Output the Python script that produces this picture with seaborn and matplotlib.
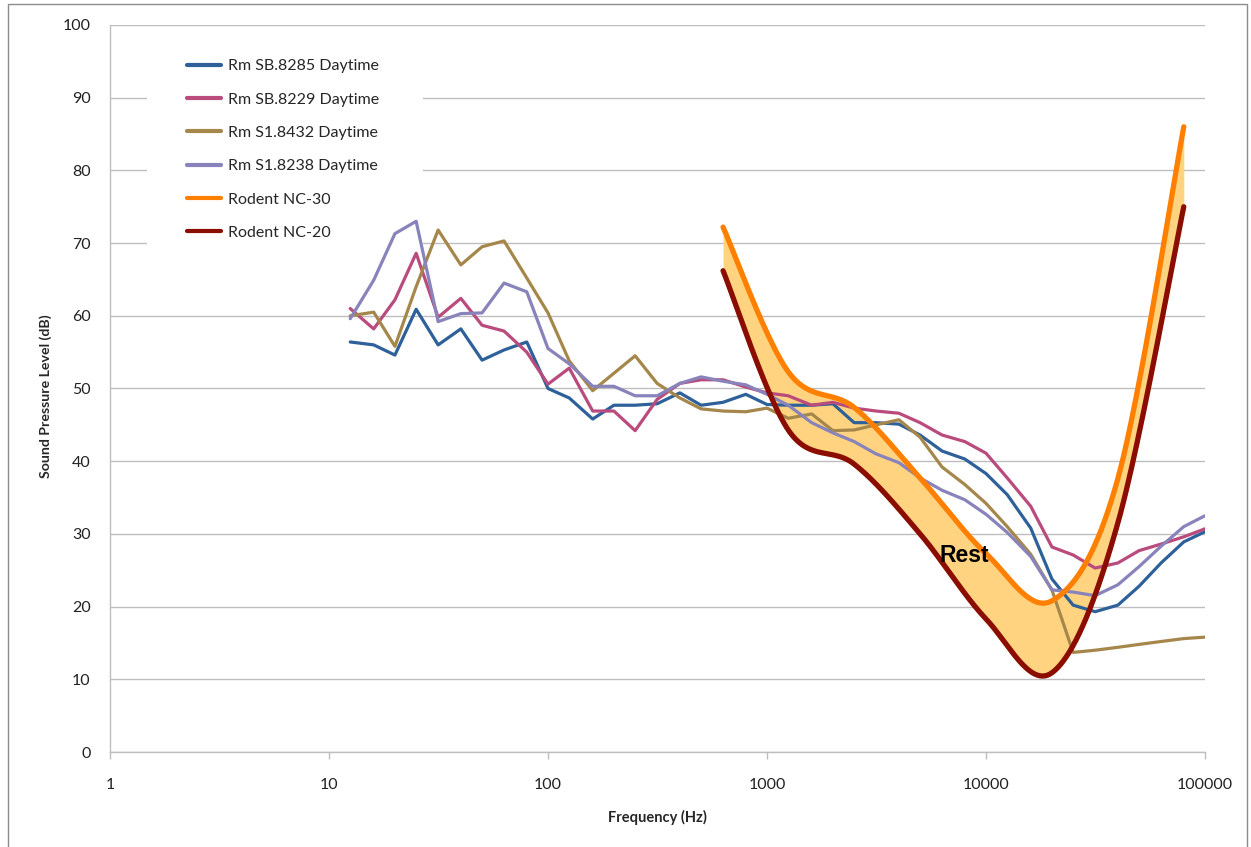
import numpy as np
import pandas as pd
import seaborn as sns
import matplotlib
matplotlib.use("Agg")
from matplotlib import pyplot as plt
from matplotlib.lines import Line2D
from matplotlib.patches import Rectangle
from matplotlib.ticker import FixedLocator, FixedFormatter, NullLocator

# 1/3 octave band centre frequencies (Hz)
freqs = [12.5, 16, 20, 25, 31.5, 40, 50, 63, 80,
         100, 125, 160, 200, 250, 315, 400, 500, 630, 800,
         1000,
         1250, 1600, 2000, 2500, 3150, 4000, 5000, 6300, 8000,
         10000,
         12500, 16000, 20000, 25000, 31500, 40000, 50000, 63000, 80000, 100000]

sb8285 = [56.4, 56.0, 54.6, 60.9, 56.0, 58.2, 53.9, 55.3, 56.4,
          50.0, 48.7, 45.8, 47.7, 47.7, 47.9, 49.4, 47.7, 48.1, 49.2,
          47.8,
          47.7, 47.7, 47.9, 45.3, 45.3, 45.1, 43.6, 41.4, 40.3,
          38.3,
          35.4, 30.8, 23.8, 20.2, 19.3, 20.2, 22.8, 26.0, 28.9, 30.3]

sb8229 = [61.0, 58.2, 62.2, 68.6, 59.8, 62.4, 58.7, 57.9, 55.0,
          50.6, 52.8, 46.9, 46.9, 44.2, 48.5, 50.7, 51.2, 51.2, 50.2,
          49.4,
          49.0, 47.7, 48.1, 47.3, 46.9, 46.6, 45.3, 43.6, 42.7,
          41.1,
          37.7, 33.8, 28.2, 27.1, 25.3, 26.0, 27.7, 28.6, 29.6, 30.7]

s18432 = [60.0, 60.5, 55.8, 64.0, 71.8, 67.0, 69.5, 70.3, 65.2,
          60.4, 53.8, 49.7, 52.1, 54.5, 50.7, 48.7, 47.2, 46.9, 46.8,
          47.3,
          45.9, 46.5, 44.2, 44.3, 45.0, 45.7, 43.3, 39.2, 36.8,
          34.2,
          31.0, 27.2, 22.3, 13.7, 14.0, 14.4, 14.8, 15.2, 15.6, 15.8]

s18238 = [59.6, 64.9, 71.3, 73.0, 59.2, 60.3, 60.4, 64.5, 63.3,
          55.5, 53.4, 50.3, 50.3, 49.0, 49.0, 50.7, 51.6, 51.0, 50.5,
          49.2,
          47.7, 45.3, 43.9, 42.7, 41.0, 39.8, 37.7, 36.0, 34.7,
          32.7,
          30.2, 26.9, 22.3, 22.0, 21.5, 23.0, 25.5, 28.3, 31.0, 32.5]

# rodent noise criteria curves (octave points, drawn as smoothed lines)
nc_freqs = [630, 1250, 2500, 5000, 10000, 20000, 40000, 80000]
nc30 = [72.2, 52.3, 47.4, 37.7, 27.3, 20.8, 37.6, 86.0]
nc20 = [66.2, 44.3, 39.6, 30.0, 18.3, 10.9, 31.5, 75.0]

series_names = ["Rm SB.8285 Daytime", "Rm SB.8229 Daytime",
                "Rm S1.8432 Daytime", "Rm S1.8238 Daytime"]
series_colors = ["#2E6099", "#B94B7D", "#A5874B", "#8883BA"]
nc_names = ["Rodent NC-30", "Rodent NC-20"]
nc_colors = ["#FF8000", "#8B0D00"]
fill_color = "#FFD37F"
grid_color = "#BEBEBE"


def smooth_curve(xs, ys, n=60):
    """Excel-style smoothed line: Catmull-Rom in log-frequency space,
    end points repeated so the end tangents are half the chord."""
    P = np.column_stack([np.log10(xs), np.asarray(ys, dtype=float)])
    pts = np.vstack([P[0], P, P[-1]])
    t = np.linspace(0, 1, n, endpoint=False)[:, None]
    segs = []
    for i in range(1, len(pts) - 2):
        p0, p1, p2, p3 = pts[i - 1], pts[i], pts[i + 1], pts[i + 2]
        segs.append(0.5 * (2 * p1 + (-p0 + p2) * t
                           + (2 * p0 - 5 * p1 + 4 * p2 - p3) * t ** 2
                           + (-p0 + 3 * p1 - 3 * p2 + p3) * t ** 3))
    segs.append(P[-1][None, :])
    out = np.vstack(segs)
    return 10 ** out[:, 0], out[:, 1]


# long dataframe for the measured rooms
df = pd.DataFrame({
    "freq": freqs * 4,
    "spl": sb8285 + sb8229 + s18432 + s18238,
    "series": sum([[name] * len(freqs) for name in series_names], []),
})

sns.set_theme(style="white")
plt.rcParams["font.family"] = ["Lato", "DejaVu Sans"]

fig = plt.figure(figsize=(12.51, 8.47), dpi=100)
ax = fig.add_axes([110 / 1251, 1 - 752 / 847, 1095 / 1251, 727 / 847])
ax.set_xscale("log")

# shaded "rest" band between the two criteria curves
x30, y30 = smooth_curve(nc_freqs, nc30)
x20, y20 = smooth_curve(nc_freqs, nc20)
ax.fill_between(x30, y20, y30, color=fill_color, lw=0, zorder=1)

sns.lineplot(data=df, x="freq", y="spl", hue="series", hue_order=series_names,
             palette=series_colors, linewidth=2.3, legend=False, sort=False,
             estimator=None, ax=ax, zorder=3)

for xs, ys, col in [(x30, y30, nc_colors[0]), (x20, y20, nc_colors[1])]:
    sns.lineplot(x=xs, y=ys, color=col, linewidth=3.8, sort=False,
                 estimator=None, ax=ax, zorder=4)

# white legend background sitting under the data lines
ax.add_patch(Rectangle((147 / 1251, 1 - 255 / 847), (423 - 147) / 1251, 215 / 847,
                       transform=fig.transFigure, facecolor="white",
                       edgecolor="none", zorder=2))

ax.text(8000, 27, "Rest", ha="center", va="center", fontsize=16.5,
        fontweight="bold", family="Liberation Sans", color="black", zorder=5)

# axes, ticks, grid
ax.set_xlim(1, 100000)
ax.set_ylim(0, 100)
decades = [1, 10, 100, 1000, 10000, 100000]
ax.xaxis.set_major_locator(FixedLocator(decades))
ax.xaxis.set_major_formatter(FixedFormatter([str(d) for d in decades]))
ax.xaxis.set_minor_locator(NullLocator())
ax.set_yticks(range(0, 101, 10))
ax.yaxis.grid(True, color=grid_color, linewidth=1.0, zorder=0)
ax.set_axisbelow(True)
for side in ["top", "right"]:
    ax.spines[side].set_visible(False)
for side in ["left", "bottom"]:
    ax.spines[side].set_color(grid_color)
    ax.spines[side].set_linewidth(1.0)
ax.tick_params(axis="x", direction="out", length=5, width=1, color=grid_color,
               pad=14, labelsize=11.5, labelcolor="#222222", bottom=True)
ax.tick_params(axis="y", length=0, pad=14, labelsize=11.5, labelcolor="#222222")

ax.set_xlabel("Frequency (Hz)", fontsize=10.5, fontweight="bold")
ax.set_ylabel("Sound Pressure Level (dB)", fontsize=10.2, fontweight="bold")
ax.xaxis.set_label_coords(0.5, -(810 - 752) / 727)
ax.yaxis.set_label_coords((52 - 110) / 1095, (752 - 396) / 727)

handles = [Line2D([], [], color=c, lw=3) for c in series_colors + nc_colors]
leg = ax.legend(handles, series_names + nc_names, loc="upper left",
                bbox_to_anchor=((187 - 110) / 1095, (752 - 59) / 727),
                frameon=False, fontsize=11.5, handlelength=2.1,
                handletextpad=0.45, labelspacing=1.2, borderpad=0,
                borderaxespad=0)
leg.set_zorder(6)

# outer chart border
fig.patches.append(Rectangle((8 / 1251, -0.01), (1247 - 8) / 1251, 1 - 4 / 847 + 0.01,
                             transform=fig.transFigure, fill=False,
                             edgecolor="#8C8C8C", linewidth=1.0))

fig.savefig("out.png", dpi=100)
